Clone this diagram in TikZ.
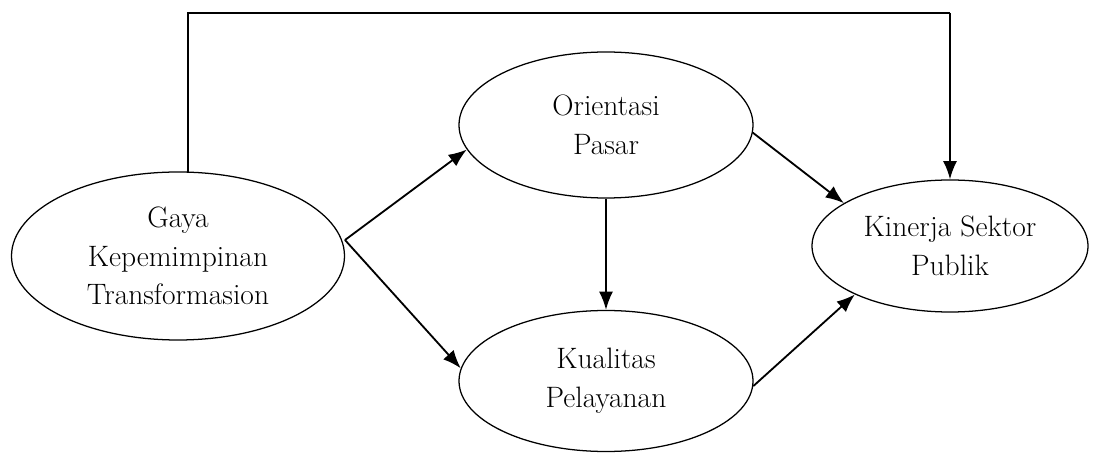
\documentclass[tikz,border=0pt]{standalone}
\usepackage{tikz}
\usetikzlibrary{shapes.geometric, arrows.meta, positioning}

\begin{document}
\begin{tikzpicture}[node distance=1.8cm]

	% --- STYLES ---
	\tikzstyle{construct} = [ellipse, draw=black, line width=0.9pt, align=center, inner sep=0pt, font=\fontsize{21}{27.5}\selectfont]
	\tikzstyle{arrow} = [line width=1.3pt, -{Latex[length=13pt,width=10pt]}]
	\tikzstyle{line} = [line width=1.3pt]

	% --- FRAME ---
	\useasboundingbox (-4.45,6.4) rectangle (23.025,-4.95);

	% --- NODES ---

	% 1. Independent variable
	\node (gaya) [construct, minimum width=8.325cm, minimum height=4.2cm] {Gaya\\Kepemimpinan\\Transformasion};

	% 2. Mediators
	\node (orient) [construct, right of=gaya, xshift=8.9cm, yshift=3.275cm, minimum width=7.35cm, minimum height=3.65cm] {Orientasi\\Pasar};
	\node (kual) [construct, below of=orient, yshift=-4.6cm, minimum width=7.35cm, minimum height=3.525cm] {Kualitas\\Pelayanan};

	% 3. Outcome
	\node (kinerja) [construct, right of=orient, xshift=6.8cm, yshift=-3.025cm, minimum width=6.9cm, minimum height=3.3cm] {Kinerja Sektor\\Publik};

	% helper points
	\coordinate (fork) at (4.175,0.4);
	\coordinate (corner) at (kinerja.north |- 0,6.075);

	% --- ARROWS ---
	\draw [line] (gaya.83) |- (corner);
	\draw [arrow] (corner) -- (kinerja.north);

	\draw [arrow] (fork) -- (orient.190);
	\draw [arrow] (fork) -- (kual.175);
	\draw [arrow] (orient.south) -- (kual.north);

	\draw [arrow] (orient.-3) -- (kinerja.158);
	\draw [arrow] (kual.-2) -- (kinerja.207);

\end{tikzpicture}
\end{document}
